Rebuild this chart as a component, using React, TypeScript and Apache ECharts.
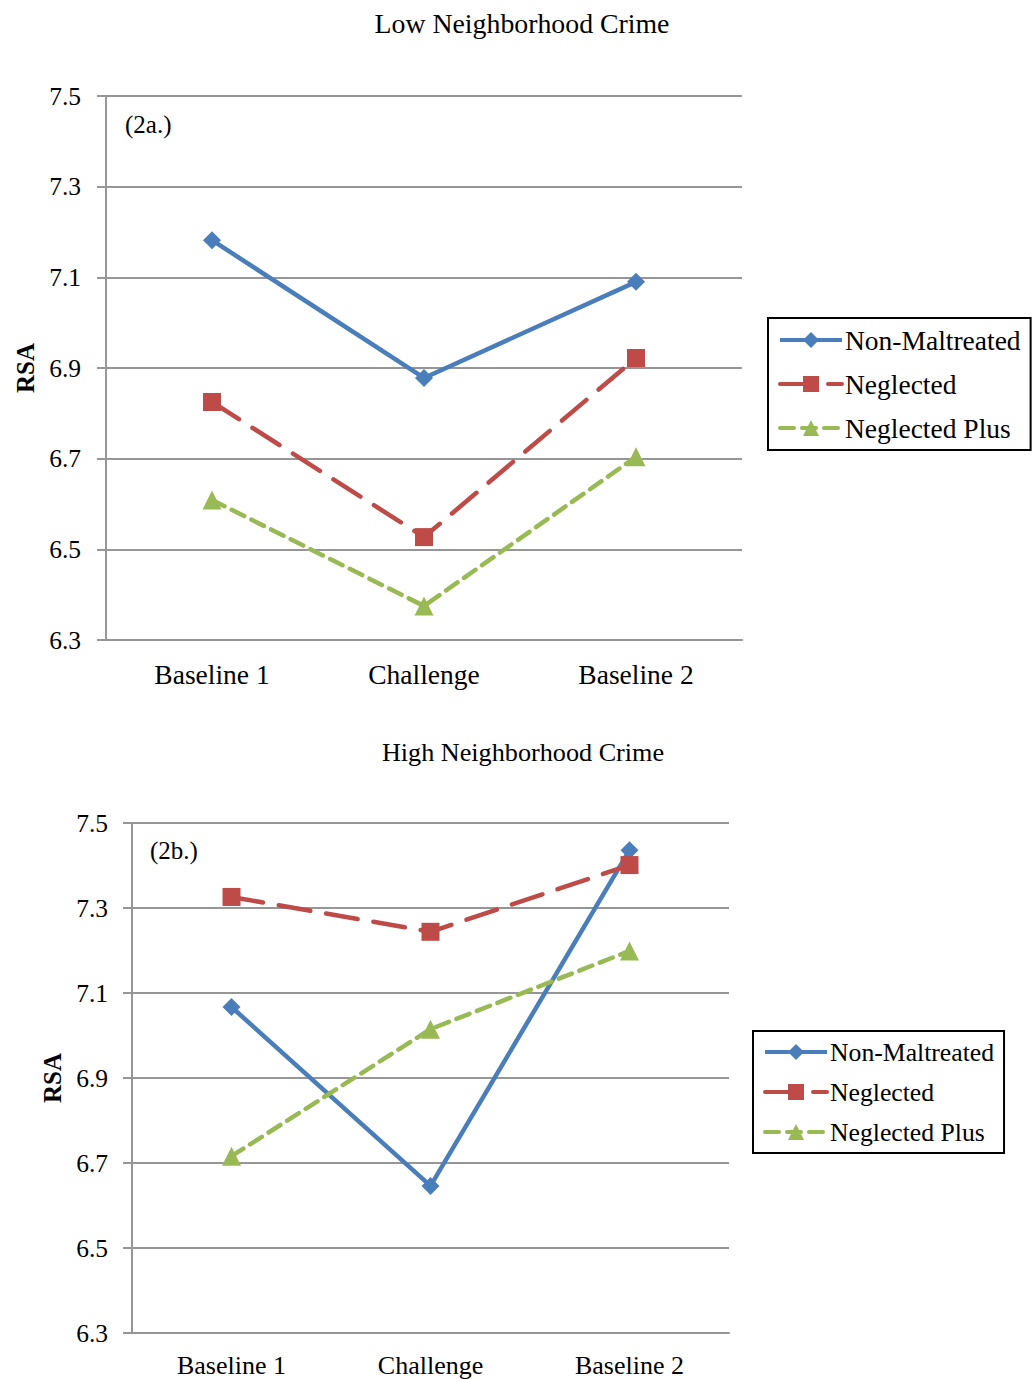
import React, { useEffect, useRef } from "react";
import * as echarts from "echarts";

const categories = ["Baseline 1", "Challenge", "Baseline 2"];
const seriesNames = ["Non-Maltreated", "Neglected", "Neglected Plus"];

const lowNonMaltreated = [7.182, 6.878, 7.09];
const lowNeglected = [6.825, 6.527, 6.922];
const lowNeglectedPlus = [6.609, 6.375, 6.704];

const highNonMaltreated = [7.067, 6.646, 7.436];
const highNeglected = [7.326, 7.244, 7.401];
const highNeglectedPlus = [6.716, 7.015, 7.199];

const yMin = 6.3;
const yMax = 7.5;
const yStep = 0.2;

const titles = ["Low Neighborhood Crime", "High Neighborhood Crime"];
const panelTags = ["(2a.)", "(2b.)"];

const BLUE = "#4A7EBB";
const RED = "#BE4B48";
const GREEN = "#98B954";
const GRID = "#969696";
const FONT = "'Liberation Serif', 'Times New Roman', serif";

export default function App() {
  const ref = useRef<HTMLDivElement>(null);
  useEffect(() => {
    document.body.style.margin = "0";
    const chart = echarts.init(ref.current!, undefined, { renderer: "svg" });

    const yAxisBase = (gridIndex: number, gap: number, margin: number) => ({
      type: "value",
      gridIndex,
      min: yMin,
      max: yMax,
      interval: yStep,
      name: "RSA",
      nameLocation: "middle",
      nameRotate: 90,
      nameGap: gap,
      nameTextStyle: { fontFamily: FONT, fontWeight: "bold", fontSize: 25, color: "#000" },
      axisLine: { show: true, lineStyle: { color: GRID, width: 2 } },
      axisTick: { show: true, length: 9, lineStyle: { color: GRID, width: 2 } },
      axisLabel: {
        fontFamily: FONT,
        fontSize: 25.5,
        color: "#000",
        margin,
        formatter: (v: number) => v.toFixed(1),
      },
      splitLine: { show: true, lineStyle: { color: GRID, width: 2 } },
    });

    const xAxisBase = (gridIndex: number, fontSize: number, margin: number) => ({
      type: "category",
      gridIndex,
      data: categories,
      boundaryGap: true,
      axisLine: { show: true, lineStyle: { color: GRID, width: 2 } },
      axisTick: { show: false },
      axisLabel: { fontFamily: FONT, fontSize, color: "#000", margin },
    });

    const mkSeries = (idx: number, data: number[][]) => [
      {
        name: seriesNames[0],
        type: "line",
        xAxisIndex: idx,
        yAxisIndex: idx,
        data: data[0],
        symbol: "diamond",
        symbolSize: 18,
        itemStyle: { color: BLUE },
        lineStyle: { color: BLUE, width: 4.5 },
      },
      {
        name: seriesNames[1],
        type: "line",
        xAxisIndex: idx,
        yAxisIndex: idx,
        data: data[1],
        symbol: "rect",
        symbolSize: 18,
        itemStyle: { color: RED },
        lineStyle: { color: RED, width: 4.5, type: [32, 16], cap: "round" },
      },
      {
        name: seriesNames[2],
        type: "line",
        xAxisIndex: idx,
        yAxisIndex: idx,
        data: data[2],
        symbol: "triangle",
        symbolSize: 19,
        itemStyle: { color: GREEN },
        lineStyle: { color: GREEN, width: 4.5, type: [14, 8], cap: "round" },
      },
    ];

    const legendBase = (left: number, top: number, fontSize: number, gap: number) => ({
      orient: "vertical",
      left,
      top,
      data: seriesNames,
      itemWidth: 62,
      itemHeight: 20,
      itemGap: gap,
      padding: [8, 10, 8, 10],
      borderColor: "#000",
      borderWidth: 2,
      selectedMode: false,
      lineStyle: { width: 4 },
      textStyle: { fontFamily: FONT, fontSize, color: "#000", padding: [0, 0, 0, -2] },
    });

    chart.setOption({
      animation: false,
      backgroundColor: "#fff",
      title: [
        {
          text: titles[0],
          left: 517,
          top: 4,
          textAlign: "center",
          textStyle: { fontFamily: FONT, fontSize: 27.8, fontWeight: "normal", color: "#000" },
        },
        {
          text: titles[1],
          left: 518,
          top: 734,
          textAlign: "center",
          textStyle: { fontFamily: FONT, fontSize: 26.2, fontWeight: "normal", color: "#000" },
        },
      ],
      grid: [
        { left: 106, right: 290, top: 96, height: 544 },
        { left: 132, right: 303, top: 823, height: 510 },
      ],
      xAxis: [xAxisBase(0, 27.5, 20), xAxisBase(1, 26, 19)],
      yAxis: [yAxisBase(0, 68, 25), yAxisBase(1, 64, 24)],
      legend: [legendBase(768, 318, 27.5, 16), legendBase(753, 1031, 25.7, 14)],
      graphic: [
        {
          type: "text",
          left: 125,
          top: 112,
          style: { text: panelTags[0], fontFamily: FONT, fontSize: 25, fill: "#000" },
        },
        {
          type: "text",
          left: 150,
          top: 838,
          style: { text: panelTags[1], fontFamily: FONT, fontSize: 25, fill: "#000" },
        },
      ],
      series: [
        ...mkSeries(0, [lowNonMaltreated, lowNeglected, lowNeglectedPlus]),
        ...mkSeries(1, [highNonMaltreated, highNeglected, highNeglectedPlus]),
      ],
    });
    return () => chart.dispose();
  }, []);
  return (
    <div
      ref={ref}
      style={{ position: "absolute", left: 0, top: 0, width: 1032, height: 1379 }}
    />
  );
}
